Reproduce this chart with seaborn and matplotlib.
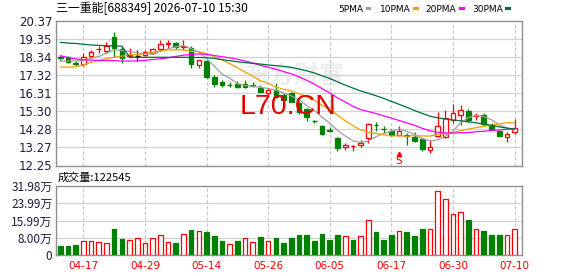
import matplotlib
matplotlib.use("Agg")
import matplotlib.pyplot as plt
import seaborn as sns
import pandas as pd
from matplotlib.patches import Rectangle

sns.set_style("white")
plt.rcParams['font.family'] = ['Noto Sans CJK SC', 'DejaVu Sans']

# ---------------- data ----------------
title = "三一重能[688349] 2026-07-10 15:30"
volume_title = "成交量:122545"
watermark = "L70.CN"
tick_idx = [3, 11, 19, 27, 35, 43, 51, 59]
tick_labels = ["04-17", "04-29", "05-14", "05-26", "06-05", "06-17", "06-30", "07-10"]
price_ticks = [12.25, 13.27, 14.28, 15.30, 16.31, 17.32, 18.34, 19.35, 20.37]
vol_ticks = [0, 8.00, 15.99, 23.99, 31.98]
vol_tick_labels = ["0", "8.00万", "15.99万", "23.99万", "31.98万"]
ma_names = ["5PMA", "10PMA", "20PMA", "30PMA"]
ma_colors = ["#a0a0a0", "#f0a000", "#ff00ff", "#006f3c"]

opens = [18.33, 18.36, 18.00, 17.94, 18.42, 18.78, 18.70, 19.45, 18.80, 18.40,
         18.42, 18.46, 18.56, 18.80, 19.10, 19.12, 18.90, 18.87, 17.90, 18.12,
         17.24, 16.93, 16.80, 16.85, 16.81, 16.79, 16.62, 16.34, 16.48, 16.21,
         16.31, 15.75, 15.40, 14.74, 14.47, 14.25, 13.78, 13.27, 13.34, 13.39,
         13.78, 14.55, 14.31, 14.21, 13.97, 13.98, 13.87, 13.72, 13.12, 13.91,
         13.85, 14.81, 15.09, 15.31, 15.03, 15.09, 14.53, 14.21, 13.87, 14.15]
highs = [18.47, 18.42, 18.12, 18.56, 18.74, 18.98, 19.21, 19.74, 18.98, 18.84,
         18.74, 18.74, 18.87, 19.30, 19.30, 19.17, 19.30, 18.98, 18.18, 18.18,
         17.35, 17.06, 16.93, 16.98, 17.06, 16.96, 16.75, 16.62, 16.87, 16.30,
         16.40, 15.84, 15.50, 14.80, 14.55, 14.40, 13.84, 13.52, 13.38, 13.68,
         14.62, 14.71, 14.47, 14.30, 14.47, 14.10, 14.15, 13.75, 13.68, 15.28,
         15.35, 15.71, 15.65, 15.41, 15.18, 15.22, 14.62, 14.24, 14.15, 14.86]
lows = [18.13, 17.99, 17.86, 17.86, 18.27, 18.56, 18.56, 18.36, 17.99, 18.27,
        18.12, 18.40, 18.50, 18.68, 18.87, 18.80, 18.74, 17.71, 17.71, 17.15,
        16.68, 16.68, 16.64, 16.62, 16.62, 16.64, 16.36, 16.17, 16.06, 15.84,
        15.80, 15.15, 14.75, 14.62, 13.95, 14.12, 13.08, 13.10, 13.08, 13.27,
        13.53, 14.21, 14.10, 13.90, 13.90, 13.40, 13.59, 13.08, 12.97, 13.87,
        13.78, 14.62, 14.53, 14.71, 14.81, 14.47, 14.25, 13.84, 13.59, 14.00]
closes = [18.28, 18.08, 17.97, 18.36, 18.65, 18.82, 18.98, 18.84, 18.27, 18.44,
          18.42, 18.65, 18.78, 19.08, 19.14, 18.93, 18.96, 17.94, 18.18, 17.24,
          16.81, 16.77, 16.77, 16.66, 16.66, 16.70, 16.40, 16.49, 16.12, 15.93,
          15.84, 15.27, 14.95, 14.71, 14.02, 14.21, 13.22, 13.40, 13.36, 13.53,
          14.58, 14.50, 14.28, 13.97, 14.19, 13.90, 13.65, 13.16, 13.27, 14.47,
          14.90, 15.19, 15.37, 14.81, 15.06, 14.58, 14.29, 13.91, 14.02, 14.34]
volumes = [4.0, 4.0, 4.5, 6.3, 6.3, 5.9, 5.4, 11.9, 7.3, 6.8,
           7.7, 5.4, 7.7, 9.1, 5.9, 5.4, 9.6, 11.4, 11.0, 10.5,
           8.7, 6.3, 5.0, 6.3, 7.7, 5.9, 8.2, 6.3, 7.7, 5.4,
           7.7, 9.1, 9.1, 6.3, 9.6, 6.8, 9.1, 8.7, 6.8, 8.7,
           16.4, 10.5, 6.8, 9.1, 11.0, 10.5, 8.7, 11.9, 12.2, 29.5,
           25.8, 19.2, 20.1, 16.1, 12.2, 11.0, 9.1, 9.1, 9.1, 12.25]
vol_up = [0, 0, 0, 1, 1, 1, 1, 0, 0, 1,
          1, 1, 1, 1, 1, 0, 1, 0, 1, 0,
          0, 0, 1, 0, 1, 1, 0, 1, 0, 0,
          0, 0, 0, 0, 0, 0, 0, 1, 0, 1,
          1, 0, 0, 0, 1, 0, 0, 0, 1, 1,
          1, 1, 1, 0, 1, 0, 0, 0, 1, 1]
ma5 = [18.12, 18.12, 18.12, 18.15, 18.27, 18.38, 18.56, 18.76, 18.71, 18.67,
       18.59, 18.52, 18.51, 18.67, 18.81, 18.92, 18.98, 18.81, 18.63, 18.25,
       17.83, 17.39, 17.16, 16.85, 16.74, 16.71, 16.64, 16.58, 16.47, 16.33,
       16.16, 15.93, 15.62, 15.34, 14.96, 14.63, 14.22, 13.91, 13.64, 13.54,
       13.62, 13.87, 14.05, 14.17, 14.30, 14.17, 14.00, 13.77, 13.63, 13.69,
       13.89, 14.20, 14.64, 14.95, 15.06, 15.00, 14.82, 14.53, 14.37, 14.23]
ma10 = [17.78, 17.78, 17.80, 17.90, 18.05, 18.15, 18.25, 18.33, 18.40, 18.47,
        18.48, 18.54, 18.62, 18.69, 18.74, 18.75, 18.75, 18.66, 18.65, 18.53,
        18.37, 18.18, 17.98, 17.74, 17.49, 17.27, 17.01, 16.87, 16.66, 16.53,
        16.44, 16.29, 16.10, 15.91, 15.64, 15.39, 15.08, 14.77, 14.49, 14.25,
        14.12, 14.05, 13.98, 13.91, 13.92, 13.89, 13.94, 13.91, 13.90, 14.00,
        14.03, 14.10, 14.21, 14.29, 14.38, 14.45, 14.51, 14.58, 14.66, 14.65]
ma20 = [18.42, 18.32, 18.24, 18.19, 18.17, 18.16, 18.15, 18.14, 18.12, 18.12,
        18.13, 18.16, 18.20, 18.24, 18.30, 18.38, 18.45, 18.49, 18.52, 18.50,
        18.43, 18.36, 18.30, 18.22, 18.12, 18.01, 17.88, 17.77, 17.66, 17.53,
        17.40, 17.23, 17.04, 16.82, 16.57, 16.33, 16.05, 15.82, 15.58, 15.39,
        15.28, 15.17, 15.04, 14.91, 14.78, 14.64, 14.51, 14.34, 14.20, 14.12,
        14.08, 14.07, 14.09, 14.10, 14.15, 14.17, 14.22, 14.25, 14.28, 14.32]
ma30 = [19.17, 19.13, 19.11, 19.06, 19.02, 19.00, 18.98, 18.97, 18.95, 18.34,
        18.33, 18.33, 18.33, 18.33, 18.33, 18.33, 18.33, 18.32, 18.32, 18.31,
        18.27, 18.20, 18.14, 18.08, 18.03, 17.99, 17.95, 17.90, 17.86, 17.82,
        17.76, 17.67, 17.57, 17.45, 17.29, 17.14, 16.95, 16.77, 16.60, 16.44,
        16.31, 16.17, 16.02, 15.85, 15.69, 15.52, 15.34, 15.18, 15.02, 14.93,
        14.86, 14.81, 14.76, 14.70, 14.65, 14.58, 14.51, 14.42, 14.35, 14.30]
signal_index = 44
signal_label = "S"

# ---------------- styles ----------------
RED = "#ff0000"
GREEN = "#008000"
GRID = "#d2d2d2"
FRAME = "#8f8f8f"
LABEL = "#1c1c3c"
W = 578.0
H = 276.0

n = len(closes)
idx = list(range(n))

fig = plt.figure(figsize=(5.78, 2.76), dpi=100)
fig.patch.set_facecolor("white")
left = 55.5 / W
width = (522 - 55.5) / W
ax = fig.add_axes([left, 1 - 165.5 / H, width, (165.5 - 21) / H])
axv = fig.add_axes([left, 1 - 255 / H, width, (255 - 186) / H])

xlim = (-0.62, 59.96)

for a in (ax, axv):
    a.set_xlim(*xlim)
    for s in a.spines.values():
        s.set_color(FRAME)
        s.set_linewidth(1.0)
    for t in tick_idx:
        a.axvline(t, color="#c6c6c6", lw=0.8, ls=(0, (3.0, 2.2)), zorder=0.8)

# ---- main price panel ----
ax.set_ylim(price_ticks[0], price_ticks[-1])
for v in price_ticks[1:-1]:
    ax.axhline(v, color=GRID, lw=0.9, zorder=0.8)
ax.set_yticks(price_ticks)
ax.set_yticklabels([f"{v:.2f}" for v in price_ticks])
ax.tick_params(axis="y", length=0, pad=2.2, labelsize=8.5, labelcolor=LABEL)
for lab in ax.get_yticklabels():
    lab.set_family("DejaVu Sans")
ax.set_xticks([])

# faint background watermark (kept above the red one so they do not collide)
ax.text(0.51, 1 - 76 / H, "东方财富", transform=fig.transFigure, ha="center",
        va="center", fontsize=18, color="#ededed", fontweight="bold", zorder=0.5)

bw = 0.6
for i in idx:
    o, h, l, c = opens[i], highs[i], lows[i], closes[i]
    if c > o:
        col = RED
    elif c < o:
        col = GREEN
    else:
        col = "black"
    ax.vlines(i, l, h, color=col, lw=0.9, zorder=2)
    if abs(c - o) < 0.03:
        ax.hlines(o, i - bw / 2, i + bw / 2, color=col, lw=1.0, zorder=3)
    else:
        face = "white" if c > o else col
        ax.add_patch(Rectangle((i - bw / 2, min(o, c)), bw, abs(c - o),
                               facecolor=face, edgecolor=col, lw=0.9, zorder=3))

ma_df = pd.concat([
    pd.DataFrame({"idx": idx, "value": vals, "series": name})
    for name, vals in zip(ma_names, [ma5, ma10, ma20, ma30])
], ignore_index=True)
sns.lineplot(data=ma_df, x="idx", y="value", hue="series", hue_order=ma_names,
             palette=dict(zip(ma_names, ma_colors)), ax=ax, legend=False,
             linewidth=0.9, estimator=None, sort=False, zorder=4)
ax.set_xlim(*xlim)
ax.set_xlabel("")
ax.set_ylabel("")
ax.set_xticks([])

# signal marker
ax.plot([signal_index], [12.88], marker="^", ms=3.2, color=RED, zorder=6,
        clip_on=False, lw=0)
ax.text(signal_index, 12.50, signal_label, color=RED, fontsize=7.5,
        ha="center", va="center", zorder=6, family="DejaVu Sans", clip_on=False)

# red watermark text
ax.text(288 / W, 1 - 107 / H, watermark, transform=fig.transFigure,
        ha="center", va="center", fontsize=20.5, color="#e00000",
        family="Liberation Sans", zorder=10)

# ---- volume panel ----
axv.set_ylim(vol_ticks[0], vol_ticks[-1])
for v in vol_ticks[1:-1]:
    axv.axhline(v, color=GRID, lw=0.9, zorder=0.8)
faces = ["white" if u else GREEN for u in vol_up]
edges = [RED if u else GREEN for u in vol_up]
axv.bar(idx, volumes, width=bw, color=faces, edgecolor=edges, linewidth=0.9,
        zorder=3)
axv.set_yticks(vol_ticks)
axv.set_yticklabels(vol_tick_labels)
axv.tick_params(axis="y", length=0, pad=2.2, labelsize=8.5, labelcolor=LABEL)
axv.set_xticks(tick_idx)
axv.set_xticklabels(tick_labels)
axv.tick_params(axis="x", length=0, pad=4.5, labelsize=7.5, labelcolor=RED)
for lab in axv.get_xticklabels():
    lab.set_family("DejaVu Sans")

# ---- header texts ----
fig.text(56.5 / W, 1 - 8.5 / H, title, ha="left", va="center", fontsize=8.6,
         color="black")
fig.text(58 / W, 1 - 177.5 / H, volume_title, ha="left", va="center",
         fontsize=8, color="black")

legend_x = [338.3, 380.0, 425.7, 472.0]
for name, col, lx in zip(ma_names, ma_colors, legend_x):
    fig.text(lx / W, 1 - 9 / H, name, ha="left", va="center",
             fontsize=6.5, color="black", family="DejaVu Sans")
for col, sx in zip(ma_colors, [365.5, 413.3, 459.3, 505.2]):
    fig.patches.append(Rectangle((sx / W, 1 - 10.2 / H), 5.3 / W, 3 / H,
                                 transform=fig.transFigure, facecolor=col,
                                 edgecolor="none"))

fig.savefig("out.png", dpi=100, facecolor="white")
